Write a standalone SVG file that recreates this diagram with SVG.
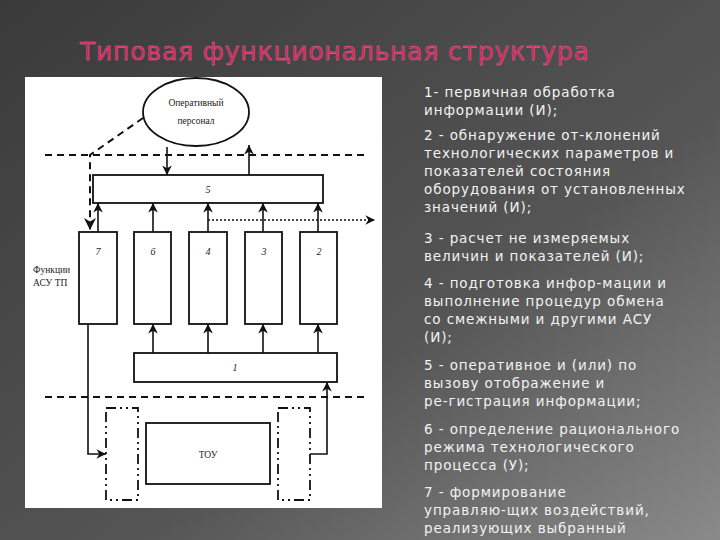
<svg xmlns="http://www.w3.org/2000/svg" width="720" height="540" viewBox="0 0 720 540">
<defs>
<linearGradient id="bg" x1="0" y1="0" x2="1" y2="1"><stop offset="0" stop-color="#3a3a3a"/><stop offset="0.6" stop-color="#555"/><stop offset="1" stop-color="#8a8a8a"/></linearGradient>
<marker id="ah" viewBox="0 0 10 10" refX="10" refY="5" markerWidth="6" markerHeight="6" orient="auto"><path d="M0,0 L10,5 L0,10 L3,5 Z" fill="#111"/></marker>
<style>
.ln{stroke:#111;stroke-width:1.6;fill:none}
.bx{stroke:#111;stroke-width:1.8;fill:#fff}
.dash{stroke:#111;stroke-width:2;fill:none;stroke-dasharray:7,5}
.dd{stroke:#111;stroke-width:1.8;fill:none;stroke-dasharray:10,4,2,4,2,4}
.it{font-family:"Liberation Serif",serif;font-style:italic;font-size:10px;fill:#222;text-anchor:middle}
.sf{font-family:"Liberation Serif",serif;font-size:9.5px;fill:#222}
.tx{font-family:"DejaVu Sans",sans-serif;font-size:13.5px;fill:#f2f2f2;letter-spacing:0.9px}
</style>
</defs>
<rect width="720" height="540" fill="url(#bg)"/>
<text x="80" y="60" font-family="DejaVu Sans,sans-serif" font-size="25" letter-spacing="0.8" fill="#c8285e" stroke="#f06a98" stroke-width="0.4">Типовая функциональная структура</text>
<rect x="25" y="77" width="357" height="431" fill="#fff"/>
<g id="ellipse"><ellipse cx="196" cy="112" rx="53" ry="34" class="bx"/><text x="196" y="106" class="sf" text-anchor="middle">Оперативный</text><text x="196" y="124" class="sf" text-anchor="middle">персонал</text></g>
<g id="n5"><rect x="93" y="175" width="230" height="28" class="bx"/><text x="208" y="193" class="it">5</text></g>
<g id="n7"><rect x="79" y="232" width="38" height="92" class="bx"/><text x="98" y="255" class="it">7</text></g>
<g id="n6"><rect x="134" y="232" width="37" height="92" class="bx"/><text x="153" y="255" class="it">6</text></g>
<g id="n4"><rect x="189" y="232" width="38" height="92" class="bx"/><text x="208" y="255" class="it">4</text></g>
<g id="n3"><rect x="245" y="232" width="37" height="92" class="bx"/><text x="264" y="255" class="it">3</text></g>
<g id="n2"><rect x="300" y="232" width="37" height="92" class="bx"/><text x="319" y="255" class="it">2</text></g>
<g id="n1"><rect x="134" y="353" width="203" height="29" class="bx"/><text x="235" y="371" class="it">1</text></g>
<g id="toy"><rect x="146" y="423" width="124" height="61" class="bx"/><text x="208" y="458" class="sf" text-anchor="middle">ТОУ</text></g>
<g id="ddl"><rect x="106" y="408" width="32" height="92" class="dd"/></g>
<g id="ddr"><rect x="278" y="408" width="32" height="92" class="dd"/></g>
<g id="label"><text x="33" y="273" class="sf">Функции</text><text x="33" y="286" class="sf">АСУ ТП</text></g>
<g id="connectors">
<line x1="45" y1="155" x2="365" y2="155" class="dash"/>
<line x1="45" y1="397" x2="365" y2="397" class="dash"/>
<path d="M143,118 L90,155 L90,230" class="dash" marker-end="url(#ah)"/>
<line x1="167" y1="147" x2="167" y2="175" class="ln" marker-end="url(#ah)"/>
<line x1="249" y1="175" x2="249" y2="145" class="ln" marker-end="url(#ah)"/>
<line x1="98" y1="232" x2="98" y2="203" class="ln" marker-end="url(#ah)"/>
<line x1="153" y1="232" x2="153" y2="203" class="ln" marker-end="url(#ah)"/>
<line x1="208" y1="232" x2="208" y2="203" class="ln" marker-end="url(#ah)"/>
<line x1="263" y1="232" x2="263" y2="203" class="ln" marker-end="url(#ah)"/>
<line x1="318" y1="232" x2="318" y2="203" class="ln" marker-end="url(#ah)"/>
<line x1="208" y1="220" x2="375" y2="220" class="ln" stroke-dasharray="2,2" marker-end="url(#ah)"/>
<line x1="153" y1="353" x2="153" y2="324" class="ln" marker-end="url(#ah)"/>
<line x1="208" y1="353" x2="208" y2="324" class="ln" marker-end="url(#ah)"/>
<line x1="263" y1="353" x2="263" y2="324" class="ln" marker-end="url(#ah)"/>
<line x1="318" y1="353" x2="318" y2="324" class="ln" marker-end="url(#ah)"/>
<path d="M88,324 L88,454 L106,454" class="ln" marker-end="url(#ah)"/>
<path d="M310,454 L327,454 L327,382" class="ln" marker-end="url(#ah)"/>
</g>
<g class="tx">
<text x="424" y="97">1- первичная обработка</text>
<text x="424" y="115">информации (И);</text>
<text x="424" y="140">2 - обнаружение от-клонений</text>
<text x="424" y="158">технологических параметров и</text>
<text x="424" y="176">показателей состояния</text>
<text x="424" y="194">оборудования от установленных</text>
<text x="424" y="212">значений (И);</text>
<text x="424" y="243">3 - расчет не измеряемых</text>
<text x="424" y="261">величин и показателей (И);</text>
<text x="424" y="288">4 - подготовка инфор-мации и</text>
<text x="424" y="306">выполнение процедур обмена</text>
<text x="424" y="324">со смежными и другими АСУ</text>
<text x="424" y="342">(И);</text>
<text x="424" y="370">5 - оперативное и (или) по</text>
<text x="424" y="388">вызову отображение и</text>
<text x="424" y="406">ре-гистрация информации;</text>
<text x="424" y="434">6 - определение рационального</text>
<text x="424" y="452">режима технологического</text>
<text x="424" y="470">процесса (У);</text>
<text x="424" y="497">7 - формирование</text>
<text x="424" y="515">управляю-щих воздействий,</text>
<text x="424" y="533">реализующих выбранный</text>
</g>
</svg>
